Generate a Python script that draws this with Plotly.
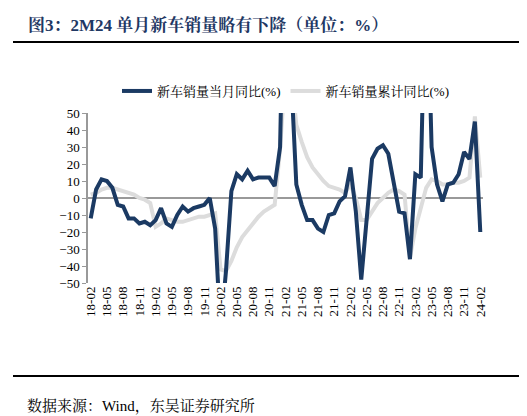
import plotly.graph_objects as go
import pandas as pd

months = [d.strftime("%y-%m") for d in pd.date_range("2018-02-01", "2024-02-01", freq="MS")]
monthly_yoy = [-12, 5, 11, 10, 6, -4, -5, -12, -12, -15, -14, -16,
               -13, -6, -15, -17, -10, -5, -8, -6, -5, -4, 0, -18,
               -79, -43, 4, 14, 11, 16, 11, 12, 12, 12, 7, 30,
               185, 75, 8, -4, -13, -13, -18, -20, -10, -9, -2, 1,
               18, -8, -48, -14, 23, 29, 31, 26, 8, -8, -9, -36,
               14, 12, 147, 30, 8, -2, 8, 9, 14, 27, 23, 45, -20]
cum_yoy = [2, 3, 5, 6, 6, 5, 4, 3, 2, 0, -1, -3,
           -17, -15, -12, -13, -14, -14, -13, -12, -11, -11, -10, -9,
           -42, -43, -37, -29, -23, -19, -15, -11, -8, -6, -4, 29,
           76, 75, 43, 33, 24, 18, 14, 10, 7, 6, 5, 3,
           8, 0, -13, -13, -8, -3, 0, 3, 5, 4, 2, -35,
           -18, -6, 6, 11, 10, 8, 8, 9, 9, 10, 12, 48, 12]
tick_labels = months[::3]
y_ticks = list(range(-50, 51, 10))

serif = "Liberation Serif, Noto Serif CJK SC, Noto Sans CJK SC"
fig = go.Figure()
fig.add_trace(go.Scatter(x=months, y=cum_yoy, mode="lines", name="新车销量累计同比(%)",
                         line=dict(color="#dcdcdc", width=4)))
fig.add_trace(go.Scatter(x=months, y=monthly_yoy, mode="lines", name="新车销量当月同比(%)",
                         line=dict(color="#1b3a63", width=4)))
W, H = 395, 170
fig.update_layout(
    width=527, height=416, plot_bgcolor="white", paper_bgcolor="white",
    margin=dict(l=80, r=52, t=105, b=141),
    font=dict(family=serif, size=13, color="black"),
    showlegend=True,
    legend=dict(orientation="h", x=0.5, xanchor="center", y=(275-83)/H, yanchor="middle",
                traceorder="reversed", font=dict(size=13)),
    xaxis=dict(type="category", tickmode="array", tickvals=tick_labels, ticktext=tick_labels,
               tickangle=-90, showgrid=False, showline=False, ticks="", range=[-0.5, 72.5],
               tickfont=dict(size=13)),
    yaxis=dict(range=[-50, 50], tickvals=y_ticks, showgrid=False, showline=True,
               linecolor="#999", linewidth=1.5, ticks="outside", tickcolor="#999", ticklen=4,
               zeroline=True, zerolinecolor="#999", zerolinewidth=1.5, tickfont=dict(size=13)),
    shapes=[
        dict(type="line", xref="paper", yref="paper", x0=-75/W, x1=(517-80)/W,
             y0=(275-34)/H, y1=(275-34)/H, line=dict(color="black", width=2)),
        dict(type="line", xref="paper", yref="paper", x0=-75/W, x1=(517-80)/W,
             y0=(275-368)/H, y1=(275-368)/H, line=dict(color="black", width=2)),
    ],
)
fig.add_annotation(text="<b>图3：2M24 单月新车销量略有下降（单位：%）</b>", xref="paper", yref="paper",
                   x=(18-80)/W, y=(275-17)/H, xanchor="left", yanchor="middle", showarrow=False,
                   font=dict(size=17, color="#1f3864"))
fig.add_annotation(text="数据来源：Wind，东吴证券研究所", xref="paper", yref="paper",
                   x=(17-80)/W, y=(275-398)/H, xanchor="left", yanchor="middle", showarrow=False,
                   font=dict(size=15))
fig.write_html("out.html")
